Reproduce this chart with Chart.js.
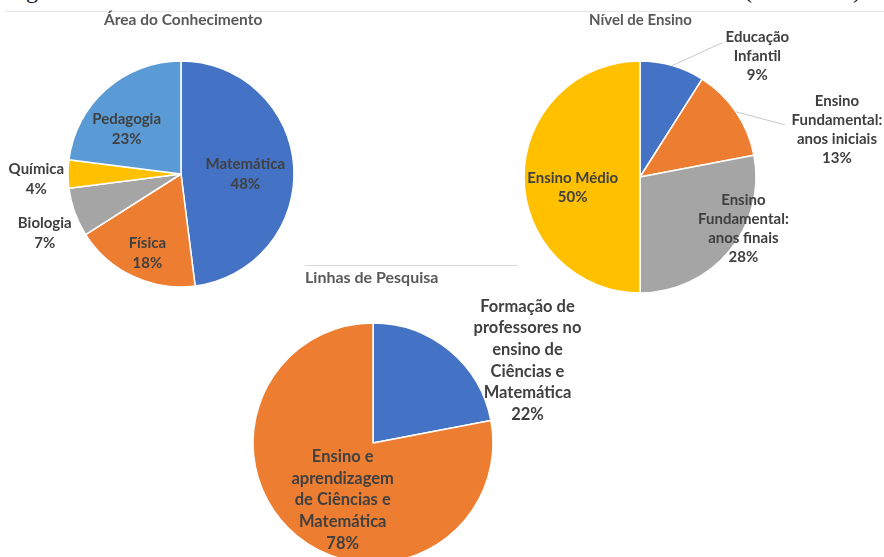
<!DOCTYPE html>
<html>
<head>
<meta charset="utf-8">
<script src="https://cdn.jsdelivr.net/npm/chart.js@4"></script>
<style>
  body { margin: 0; background: #fff; overflow: hidden; }
  #page { position: relative; width: 884px; height: 557px; overflow: hidden; font-family: Lato, "Liberation Sans", sans-serif; }
  canvas { position: absolute; }
  .cap { position: absolute; top: -22px; font: 24px/24px "Liberation Serif", serif; color: #111; }
  .ttl { position: absolute; color: #595959; white-space: nowrap; font-weight: bold; }
  .rule { position: absolute; height: 1px; background: #e6e6e6; }
</style>
</head>
<body>
<div id="page">
  <span class="cap" style="left:6px">Fig</span>
  <span class="cap" style="left:744px">(</span>
  <span class="cap" style="left:853px">)</span>
  <div class="rule" style="left:5px; top:11px; width:879px"></div>
  <div class="rule" style="left:305px; top:265px; width:213px; background:#d9d9d9"></div>

  <canvas id="c1" width="362" height="348" style="left:0; top:0"></canvas>
  <canvas id="c2" width="488" height="354" style="left:396px; top:0"></canvas>
  <canvas id="c3" width="746" height="300" style="left:0; top:293px"></canvas>

  <div class="ttl" id="t1" style="left:104px; top:10px; font-size:15.5px">Área do Conhecimento</div>
  <div class="ttl" id="t2" style="left:589px; top:10px; font-size:15px">Nível de Ensino</div>
  <div class="ttl" id="t3" style="left:305px; top:267px; font-size:16px">Linhas de Pesquisa</div>
</div>
<script>
// Área do Conhecimento
var areaLabels = ["Matemática", "Física", "Biologia", "Química", "Pedagogia"];
var areaValues = [48, 18, 7, 4, 23];

// Nível de Ensino
var nivelLabels = [["Educação", "Infantil"], ["Ensino", "Fundamental:", "anos iniciais"], ["Ensino", "Fundamental:", "anos finais"], "Ensino Médio"];
var nivelValues = [9, 13, 28, 50];

// Linhas de Pesquisa
var linhasLabels = [["Formação de", "professores no", "ensino de", "Ciências e", "Matemática"], ["Ensino e", "aprendizagem", "de Ciências e", "Matemática"]];
var linhasValues = [22, 78];

var blue = "#4472C4", orange = "#ED7D31", gray = "#A5A5A5", yellow = "#FFC000", lightBlue = "#5B9BD5";

// draws "name / xx%" for each slice, placed relative to the slice's mid angle
const sliceLabels = {
  id: 'sliceLabels',
  afterDatasetsDraw(chart, args, opts) {
    const ctx = chart.ctx;
    const meta = chart.getDatasetMeta(0);
    const data = chart.data.datasets[0].data;
    const total = data.reduce((a, b) => a + b, 0);
    meta.data.forEach((arc, i) => {
      const p = arc.getProps(['x', 'y', 'startAngle', 'endAngle', 'outerRadius'], true);
      const mid = (p.startAngle + p.endAngle) / 2;
      const s = opts.place[i];
      const ex = p.x + Math.cos(mid) * p.outerRadius * s.d;
      const ey = p.y + Math.sin(mid) * p.outerRadius * s.d;
      ctx.save();
      if (s.leader) {
        ctx.strokeStyle = '#c8c8c8';
        ctx.lineWidth = 1;
        ctx.beginPath();
        ctx.moveTo(ex, ey);
        ctx.lineTo(ex + s.leader[0], ey + s.leader[1]);
        ctx.stroke();
      }
      const lines = [].concat(chart.data.labels[i], Math.round(data[i] / total * 100) + '%');
      ctx.font = 'bold ' + opts.size + 'px Lato, "Liberation Sans", sans-serif';
      ctx.fillStyle = '#404040';
      ctx.textAlign = 'center';
      ctx.textBaseline = 'middle';
      const lx = ex + s.dx, ly = ey + s.dy;
      lines.forEach((t, k) => ctx.fillText(t, lx, ly + (k - (lines.length - 1) / 2) * opts.lineHeight));
      ctx.restore();
    });
  }
};

function makePie(id, labels, values, colors, radius, labelOpts) {
  return new Chart(id, {
    type: 'pie',
    data: {
      labels: labels,
      datasets: [{
        data: values,
        backgroundColor: colors,
        borderColor: '#ffffff',
        borderWidth: 1.5,
        radius: radius
      }]
    },
    options: {
      responsive: false,
      animation: false,
      layout: { padding: 0 },
      plugins: {
        legend: { display: false },
        tooltip: { enabled: false },
        sliceLabels: labelOpts
      }
    },
    plugins: [sliceLabels]
  });
}

makePie('c1', areaLabels, areaValues, [blue, orange, gray, yellow, lightBlue], 113, {
  size: 15, lineHeight: 20,
  place: [
    { d: 0.57, dx: 0, dy: 4 },
    { d: 0.76, dx: 3, dy: 1 },
    { d: 1.31, dx: 3, dy: 9 },
    { d: 1.28, dx: 0, dy: 5 },
    { d: 0.62, dx: -8, dy: 8 }
  ]
});

makePie('c2', nivelLabels, nivelValues, [blue, orange, gray, yellow], 116, {
  size: 15, lineHeight: 19,
  place: [
    { d: 1, dx: 85, dy: -9, leader: [50, -23] },
    { d: 1, dx: 101, dy: 18, leader: [49, 13] },
    { d: 1, dx: 14, dy: -22 },
    { d: 0.58, dx: 0, dy: 11 }
  ]
});

makePie('c3', linhasLabels, linhasValues, [blue, orange], 120, {
  size: 16.5, lineHeight: 21.7,
  place: [
    { d: 1, dx: 78, dy: 10 },
    { d: 0.54, dx: 11, dy: 7 }
  ]
});
</script>
</body>
</html>
